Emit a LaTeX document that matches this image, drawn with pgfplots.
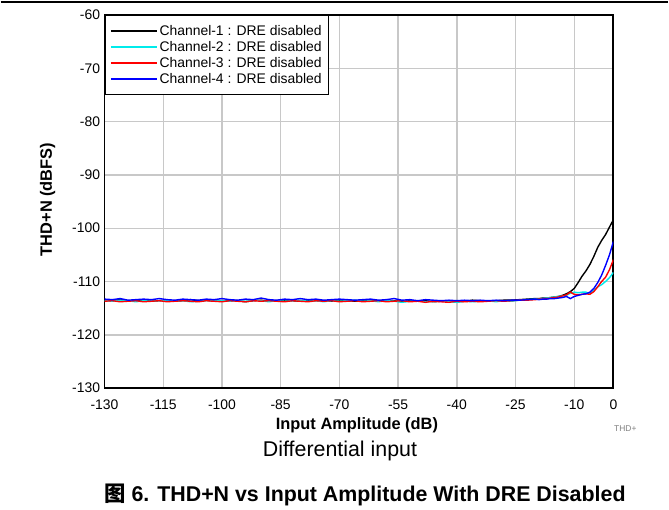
\documentclass[border=0pt]{standalone}
\usepackage{pgfplots}
\pgfplotsset{compat=1.18}
\usepackage{fontspec}
\setmainfont{Liberation Sans}
\newfontfamily\cjk{Noto Sans CJK SC}
\definecolor{gridgray}{RGB}{200,200,200}
\definecolor{chcyan}{RGB}{0,235,235}

\pgfplotstableread{
x     c1      c2      c3      c4
-130  -113.5  -113.6  -113.7  -113.3
-128  -113.6  -113.7  -113.6  -113.4
-126  -113.4  -113.5  -113.8  -113.2
-124  -113.7  -113.6  -113.7  -113.5
-122  -113.6  -113.8  -113.6  -113.4
-120  -113.5  -113.6  -113.8  -113.3
-118  -113.7  -113.7  -113.7  -113.4
-116  -113.6  -113.6  -113.6  -113.2
-114  -113.5  -113.5  -113.8  -113.4
-112  -113.7  -113.7  -113.7  -113.5
-110  -113.6  -113.6  -113.6  -113.3
-108  -113.4  -113.8  -113.7  -113.4
-106  -113.6  -113.7  -113.8  -113.5
-104  -113.5  -113.6  -113.6  -113.3
-102  -113.7  -113.5  -113.7  -113.4
-100  -113.6  -113.6  -113.8  -113.2
-98   -113.5  -113.7  -113.6  -113.4
-96   -113.6  -113.6  -113.7  -113.5
-94   -113.8  -113.7  -113.8  -113.3
-92   -113.6  -113.5  -113.6  -113.4
-90   -113.5  -113.6  -113.7  -113.1
-88   -113.7  -113.8  -113.6  -113.4
-86   -113.6  -113.6  -113.7  -113.5
-84   -113.5  -113.7  -113.8  -113.3
-82   -113.6  -113.6  -113.6  -113.4
-80   -113.7  -113.5  -113.7  -113.2
-78   -113.5  -113.7  -113.8  -113.4
-76   -113.6  -113.6  -113.6  -113.3
-74   -113.6  -113.8  -113.7  -113.5
-72   -113.7  -113.6  -113.6  -113.4
-70   -113.5  -113.7  -113.8  -113.3
-68   -113.6  -113.6  -113.7  -113.4
-66   -113.7  -113.5  -113.6  -113.5
-64   -113.6  -113.7  -113.8  -113.4
-62   -113.5  -113.6  -113.7  -113.3
-60   -113.6  -113.8  -113.6  -113.5
-58   -113.7  -113.6  -113.8  -113.4
-56   -113.6  -113.7  -113.7  -113.2
-54   -113.8  -113.9  -113.6  -113.5
-52   -113.6  -113.7  -113.8  -113.4
-50   -113.7  -113.6  -113.7  -113.6
-48   -113.6  -113.8  -113.9  -113.4
-46   -113.8  -113.7  -113.7  -113.5
-44   -113.7  -113.6  -113.8  -113.6
-42   -113.6  -113.8  -113.9  -113.5
-40   -113.8  -113.9  -113.7  -113.6
-38   -113.7  -113.7  -113.8  -113.5
-36   -113.5  -113.8  -113.7  -113.6
-34   -113.6  -113.7  -113.8  -113.5
-32   -113.7  -113.6  -113.7  -113.6
-30   -113.6  -113.8  -113.6  -113.5
-28   -113.5  -113.6  -113.7  -113.6
-26   -113.5  -113.7  -113.6  -113.5
-24   -113.4  -113.5  -113.5  -113.5
-22   -113.3  -113.4  -113.5  -113.4
-20   -113.2  -113.3  -113.4  -113.3
-19   -113.2  -113.3  -113.3  -113.4
-18   -113.1  -113.2  -113.3  -113.3
-17   -113.1  -113.1  -113.2  -113.3
-16   -113.0  -113.0  -113.1  -113.2
-15   -112.9  -112.9  -113.0  -113.2
-14   -112.8  -112.8  -112.9  -113.1
-13   -112.6  -112.7  -112.7  -113.0
-12   -112.3  -112.6  -112.5  -112.8
-11   -111.9  -112.2  -112.0  -113.2
-10   -111.3  -112.0  -112.4  -112.8
-9    -110.2  -112.1  -112.5  -112.6
-8    -109.0  -112.0  -112.4  -112.4
-7    -108.0  -112.0  -112.3  -112.3
-6    -106.8  -112.3  -112.4  -112.0
-5    -105.3  -111.6  -111.9  -111.3
-4    -103.6  -111.0  -111.0  -110.2
-3    -102.3  -110.6  -110.0  -108.8
-2    -101.2  -110.0  -109.2  -107.0
-1    -99.8   -109.3  -107.8  -105.0
0     -98.4   -108.3  -105.9  -102.5
}\thdtable

\begin{document}
\begin{tikzpicture}
\begin{axis}[
    at={(0,0)}, anchor=south west,
    scale only axis,
    width=510bp, height=374bp,
    xmin=-130, xmax=0,
    ymin=-130, ymax=-60,
    xtick={-130,-115,-100,-85,-70,-55,-40,-25,-10,0},
    ytick={-130,-120,...,-60},
    major tick length=0pt,
    grid=major,
    grid style={gridgray, line width=1.4bp},
    axis line style={black, line width=1.8bp},
    /pgf/number format/assume math mode=true,
    tick label style={font=\fontsize{14}{16}\selectfont},
    xticklabel style={yshift=-8bp},
    yticklabel style={xshift=-1bp},
    legend cell align=left,
    legend style={at={(rel axis cs:0,1)}, anchor=north west,
        draw=black, line width=1.3bp, fill=white,
        font=\fontsize{14}{16}\selectfont,
        inner xsep=5bp, inner ysep=7.5bp, row sep=0.5bp},
    legend image code/.code={\draw[#1, line width=1.5bp] (0bp,0bp) -- (46bp,0bp);},
    every axis plot/.append style={line width=1.4bp},
]
\addplot[black] table[x=x, y=c1] {\thdtable};
\addlegendentry{Channel-1 : DRE disabled}
\addplot[chcyan] table[x=x, y=c2] {\thdtable};
\addlegendentry{Channel-2 : DRE disabled}
\addplot[red] table[x=x, y=c3] {\thdtable};
\addlegendentry{Channel-3 : DRE disabled}
\addplot[blue] table[x=x, y=c4] {\thdtable};
\addlegendentry{Channel-4 : DRE disabled}
\end{axis}
\draw[black, line width=1.5bp] (-104bp,387bp) -- (565bp,387bp);
\node[rotate=90, font=\bfseries\fontsize{16.5}{18}\selectfont] at (-57bp,189bp) {THD+N (dBFS)};
\node[font=\bfseries\fontsize{16.5}{18}\selectfont] at (253bp,-37bp) {Input Amplitude (dB)};
\node[font=\fontsize{8.5}{9}\selectfont, text=gray] at (522bp,-41bp) {THD+};
\node[font=\fontsize{21.5}{24}\selectfont] at (236bp,-63bp) {Differential input};
\node[font=\bfseries\fontsize{21.5}{24}\selectfont] at (261bp,-107bp) {{\cjk\bfseries 图} 6. THD+N vs Input Amplitude With DRE Disabled};
\path[use as bounding box] (-104bp,-120bp) rectangle (565bp,389bp);
\end{tikzpicture}
\end{document}
